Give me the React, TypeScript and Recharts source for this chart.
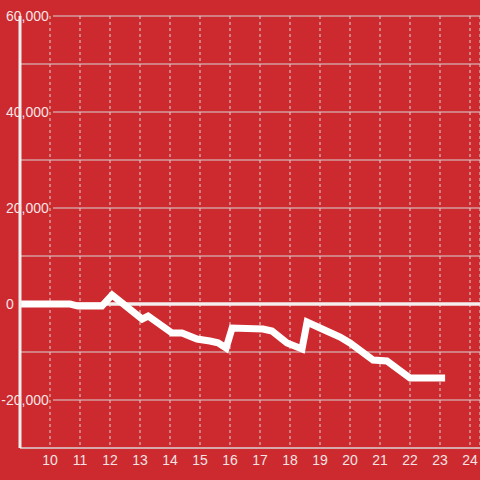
import React from 'react';
import { LineChart, Line, XAxis, YAxis, CartesianGrid, ReferenceLine } from 'recharts';

// hour of day and running total
const hours = [9, 10.67, 10.93, 11.73, 12.07, 13.07, 13.27, 14.07, 14.4, 14.9, 15.33, 15.6, 15.87, 16.07, 17.1, 17.4, 17.9, 18.4, 18.57, 19.0, 19.67, 20.0, 20.77, 21.23, 22.0, 23.17];
const values = [0, 0, -420, -420, 1880, -3130, -2500, -6040, -6040, -7290, -7710, -8100, -9170, -5000, -5210, -5630, -8130, -9380, -3750, -5000, -6880, -8130, -11670, -11880, -15420, -15420];

const xTicks = [10, 11, 12, 13, 14, 15, 16, 17, 18, 19, 20, 21, 22, 23, 24];
const yTicks = [-30000, -20000, -10000, 0, 10000, 20000, 30000, 40000, 50000, 60000];

const BG = '#cc2a2f';
const TEXT = '#f4e4e4';
const GRID = '#d9d4d4';
const FONT = '"Liberation Sans", Arial, sans-serif';

const data = hours.map((h, i) => ({ hour: h, total: values[i] }));

const isLabelled = (v: number) => v % 20000 === 0 && v > -30000;

const YTick = ({ x, y, payload }: any) => {
    const v = payload.value;
    if (!isLabelled(v)) return null;
    const num = Math.abs(v).toLocaleString('en-US');
    return (
        <text x={x - 14} y={y + 5} fill={TEXT} fontSize={14} fontFamily={FONT} textAnchor="start">
            {v < 0 ? <tspan dx={-4.7}>-</tspan> : null}
            {num}
        </text>
    );
};

const XTick = ({ x, y, payload }: any) => (
    <text x={x} y={y + 17} fill={TEXT} fontSize={14} fontFamily={FONT} textAnchor="middle">
        {payload.value}
    </text>
);

// labelled gridlines start after the label, the rest run from the axis
const HLine = (props: any) => {
    const v = yTicks[props.index];
    const x1 = isLabelled(v) ? props.x1 + 33 : props.x1;
    return <line key={props.key} x1={x1} x2={props.x2} y1={props.y1} y2={props.y2} stroke={GRID} strokeWidth={1} />;
};

const VLine = (props: any) => (
    <line key={props.key} x1={props.x1} x2={props.x2} y1={props.y1} y2={props.y2} stroke={GRID} strokeWidth={1} strokeDasharray="3 3" />
);

export default function App() {
    return (
        <div style={{ position: 'absolute', left: 0, top: 0, width: 480, height: 480, background: BG }}>
            <LineChart width={480} height={480} data={data} margin={{ top: 16, right: 0, bottom: 0, left: 0 }}>
                <CartesianGrid horizontal={HLine} vertical={VLine} />
                <XAxis
                    dataKey="hour"
                    type="number"
                    domain={[9, 24.333]}
                    ticks={xTicks}
                    interval={0}
                    height={32}
                    tickSize={0}
                    tickMargin={0}
                    tickLine={false}
                    axisLine={{ stroke: GRID, strokeWidth: 1 }}
                    tick={<XTick />}
                    allowDataOverflow
                />
                <YAxis
                    type="number"
                    domain={[-30000, 60000]}
                    ticks={yTicks}
                    interval={0}
                    width={20}
                    tickSize={0}
                    tickMargin={0}
                    tickLine={false}
                    axisLine={{ stroke: '#f4eeee', strokeWidth: 3 }}
                    tick={<YTick />}
                />
                <ReferenceLine y={0} stroke="#f4eeee" strokeWidth={3.5} />
                <Line
                    dataKey="total"
                    type="linear"
                    stroke="#ffffff"
                    strokeWidth={7}
                    dot={false}
                    activeDot={false}
                    isAnimationActive={false}
                />
            </LineChart>
        </div>
    );
}
